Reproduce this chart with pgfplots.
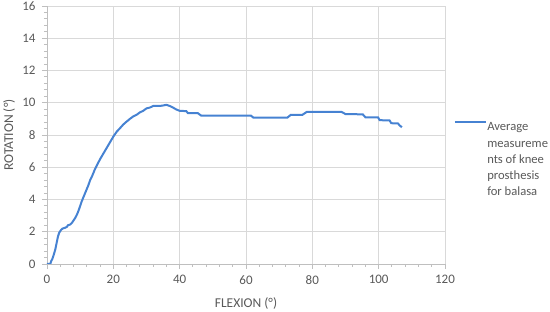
\documentclass[border=0pt]{standalone}
\usepackage{pgfplots}
\pgfplotsset{compat=1.18}
\usepackage{fontspec}
\setmainfont{Carlito}

\definecolor{curveblue}{RGB}{70,130,210}
\definecolor{txtgray}{RGB}{89,89,89}
\definecolor{gridgray}{RGB}{217,217,217}
\definecolor{axgray}{RGB}{191,191,191}

\begin{document}
\begin{tikzpicture}[x=1pt,y=1pt]
  \useasboundingbox (-47,-48) rectangle (503,264);
  \begin{axis}[
      scale only axis,
      width=398pt, height=258pt,
      xmin=0, xmax=120, ymin=0, ymax=16,
      xtick={0,20,...,120}, ytick={0,2,...,16},
      minor x tick num=4, minor y tick num=4,
      grid=major,
      major grid style={gridgray, line width=0.9pt},
      axis x line*=bottom, axis y line*=left,
      axis line style={axgray, line width=0.9pt, -},
      tick style={axgray, line width=0.9pt},
      tick align=outside,
      major tick length=5pt, minor tick length=3pt,
      /pgf/number format/assume math mode=true,
      tick label style={font=\fontsize{13}{15}\selectfont, text=txtgray},
      xticklabel style={yshift=-3pt},
      yticklabel style={xshift=-3pt},
      xlabel={FLEXION (°)},
      ylabel={ROTATION (°)},
      every axis x label/.style={at={(rel axis cs:0.5,0)}, anchor=north, yshift=-30pt,
        font=\fontsize{13.5}{15}\selectfont, text=txtgray},
      every axis y label/.style={at={(rel axis cs:0,0.5)}, anchor=center, rotate=90, yshift=38pt,
        font=\fontsize{13.5}{15}\selectfont, text=txtgray},
      legend style={at={(rel axis cs:1.022,0.562)}, anchor=north west, draw=none, fill=none,
        inner sep=0pt, outer sep=0pt, text=txtgray,
        nodes={inner sep=0.5pt}},
      legend cell align=left,
      legend image code/.code={\draw[#1] (0pt,3.5pt) -- (31pt,3.5pt);},
    ]
    \addplot[curveblue, line width=2pt] coordinates {
      (0,0) (1,0) (1.3,0.2) (1.6,0.3) (2,0.55) (2.5,0.9) (3,1.4) (3.3,1.7)
      (3.7,1.95) (4.2,2.1) (4.7,2.2) (5.5,2.25) (6,2.3) (6.3,2.4) (7,2.45)
      (7.5,2.55) (8,2.7) (8.5,2.85) (9,3.05) (9.5,3.3) (10,3.6) (10.5,3.9)
      (11,4.15) (11.5,4.4) (12,4.65) (12.5,4.9) (13,5.2) (13.5,5.4) (14,5.65)
      (14.5,5.9) (15,6.1) (15.5,6.3) (16,6.5) (17,6.85) (18,7.2) (19,7.55)
      (20,7.9) (21,8.2) (22,8.42) (23,8.65) (24,8.83) (25,9.0) (26,9.15)
      (27,9.25) (28,9.4) (29,9.5) (30,9.65) (31,9.7) (32,9.8) (34,9.8)
      (35,9.83) (36,9.87) (37,9.8) (38,9.7) (39,9.58) (40,9.5) (42,9.48)
      (42.5,9.35) (45.5,9.35) (46.5,9.2) (61.5,9.2) (62.2,9.08) (72.5,9.08)
      (73.5,9.25) (77,9.25) (78.3,9.43) (88.8,9.43) (90,9.3) (95.2,9.28)
      (96,9.1) (99.8,9.1) (100.3,8.92) (103.3,8.9) (103.8,8.73) (105.8,8.72)
      (106.3,8.6) (107,8.48)
    };
    \addlegendentry{\fontsize{12.6}{16.2}\selectfont\begin{tabular}[t]{@{}l@{}}Average\\measureme\\nts of knee\\prosthesis\\for balasa\end{tabular}}
  \end{axis}
\end{tikzpicture}
\end{document}
